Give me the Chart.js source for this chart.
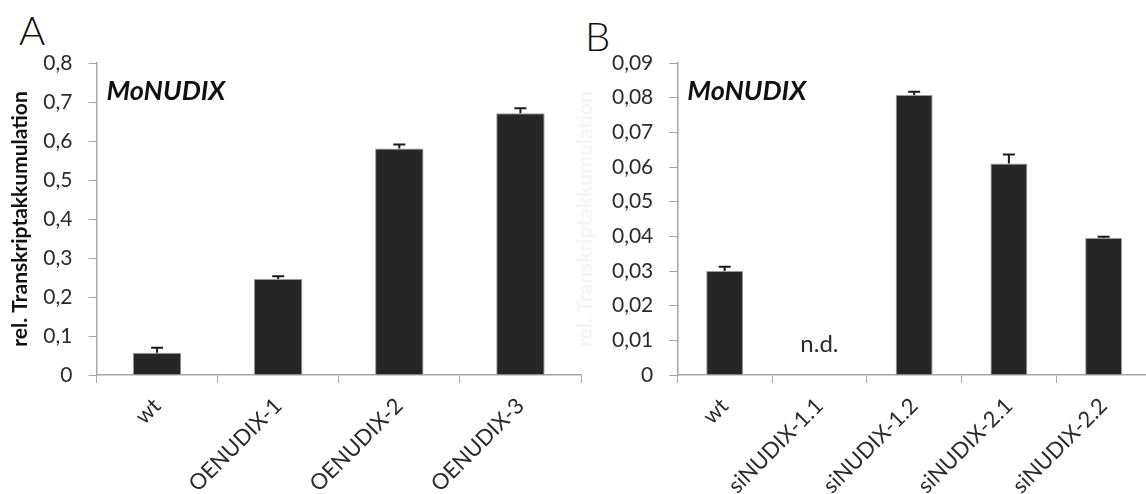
<!DOCTYPE html>
<html>
<head>
<meta charset="utf-8">
<script src="https://cdn.jsdelivr.net/npm/chart.js@4/dist/chart.umd.min.js"></script>
<style>
  html, body { margin: 0; padding: 0; background: #fff; overflow: hidden; width: 1146px; height: 494px; }
  canvas { position: absolute; top: 0; }
  .panel { position: absolute; font-family: Lato, sans-serif; font-size: 40px; font-weight: 300; color: #111; line-height: 1; }
</style>
</head>
<body>
<div class="panel" style="left:19px; top:10px;">A</div>
<div class="panel" style="left:585px; top:16px;">B</div>
<canvas id="chartA" width="590" height="494" style="left:0px"></canvas>
<canvas id="chartB" width="590" height="494" style="left:570px"></canvas>
<script>
// panel A: overexpression lines
var categoriesA = ["wt", "OENUDIX-1", "OENUDIX-2", "OENUDIX-3"];
var valuesA = [0.057, 0.246, 0.581, 0.671];
var errorsA = [0.013, 0.007, 0.010, 0.013];
var ticksA = ["0", "0,1", "0,2", "0,3", "0,4", "0,5", "0,6", "0,7", "0,8"];

// panel B: silencing lines (siNUDIX-1.1 not detected)
var categoriesB = ["wt", "siNUDIX-1.1", "siNUDIX-1.2", "siNUDIX-2.1", "siNUDIX-2.2"];
var valuesB = [0.030, null, 0.0808, 0.061, 0.0395];
var errorsB = [0.0012, null, 0.0009, 0.0026, 0.0004];
var ticksB = ["0", "0,01", "0,02", "0,03", "0,04", "0,05", "0,06", "0,07", "0,08", "0,09"];

var gene = "MoNUDIX";
var yTitle = "rel. Transkriptakkumulation";

var axisGrey = "#a6a6a6";
var textGrey = "#2b2b2b";

var extras = {
  id: "extras",
  afterDatasetsDraw: function (chart, args, opts) {
    var c = chart.ctx;
    var meta = chart.getDatasetMeta(0);
    var y = chart.scales.y;
    var vals = chart.data.datasets[0].data;
    c.save();
    // upper error bars
    c.strokeStyle = "#1a1a1a";
    c.lineWidth = 2;
    opts.errors.forEach(function (e, i) {
      if (e == null || vals[i] == null) return;
      var x = meta.data[i].x;
      var y0 = y.getPixelForValue(vals[i]);
      var y1 = y.getPixelForValue(vals[i] + e);
      c.beginPath();
      c.moveTo(x, y0);
      c.lineTo(x, y1);
      c.moveTo(x - 6, y1);
      c.lineTo(x + 6, y1);
      c.stroke();
    });
    // gene name
    c.fillStyle = "#111";
    c.font = "italic bold 27px Lato";
    c.textBaseline = "alphabetic";
    c.textAlign = "left";
    c.fillText(gene, chart.chartArea.left + 10, opts.geneY);
    // not detected label
    if (opts.nd != null) {
      c.fillStyle = textGrey;
      c.font = "24px Lato";
      c.textAlign = "center";
      c.fillText("n.d.", chart.scales.x.getPixelForValue(opts.nd), y.getPixelForValue(0.0065));
    }
    c.restore();
  }
};

function makeChart(id, cats, vals, errs, tickLabels, max, step, barPct, yWidth, titleColor, titlePad, nd) {
  return new Chart(document.getElementById(id), {
    type: "bar",
    data: {
      labels: cats,
      datasets: [{
        data: vals,
        backgroundColor: "#262626",
        borderColor: "#9a9a9a",
        borderWidth: 1,
        categoryPercentage: 1,
        barPercentage: barPct,
      }],
    },
    options: {
      responsive: false,
      animation: false,
      layout: { padding: { top: 63, right: 9, bottom: 0, left: 0 } },
      plugins: {
        legend: { display: false },
        tooltip: { enabled: false },
        extras: { errors: errs, geneY: 100, nd: nd },
      },
      scales: {
        x: {
          afterFit: function (s) { s.height = 119; },
          grid: { display: true, drawOnChartArea: false, drawTicks: true, tickLength: 8, color: axisGrey, offset: true },
          border: { color: axisGrey, width: 1.5 },
          ticks: { color: textGrey, font: { family: "Lato", size: 22 }, maxRotation: 45, minRotation: 45, padding: 10 },
        },
        y: {
          min: 0,
          max: max,
          afterFit: function (s) { s.width = yWidth; },
          grid: { display: true, drawOnChartArea: false, drawTicks: true, tickLength: 8, color: axisGrey },
          border: { color: axisGrey, width: 1.5 },
          ticks: {
            stepSize: step,
            color: textGrey,
            padding: 16,
            font: { family: "Lato", size: 21 },
            callback: function (v, i) { return tickLabels[i]; },
          },
          title: {
            display: true,
            text: yTitle,
            color: titleColor,
            padding: titlePad,
            font: { family: "Lato", size: 21, weight: "bold" },
          },
        },
      },
    },
    plugins: [extras],
  });
}

makeChart("chartA", categoriesA, valuesA, errorsA, ticksA, 0.8, 0.1, 0.4, 96.5, "#111", { top: 8, bottom: 0 }, null);
makeChart("chartB", categoriesB, valuesB, errorsB, ticksB, 0.09, 0.01, 0.39, 107.3, "#f5f5f5", { top: 3, bottom: 0 }, 1);
</script>
</body>
</html>
